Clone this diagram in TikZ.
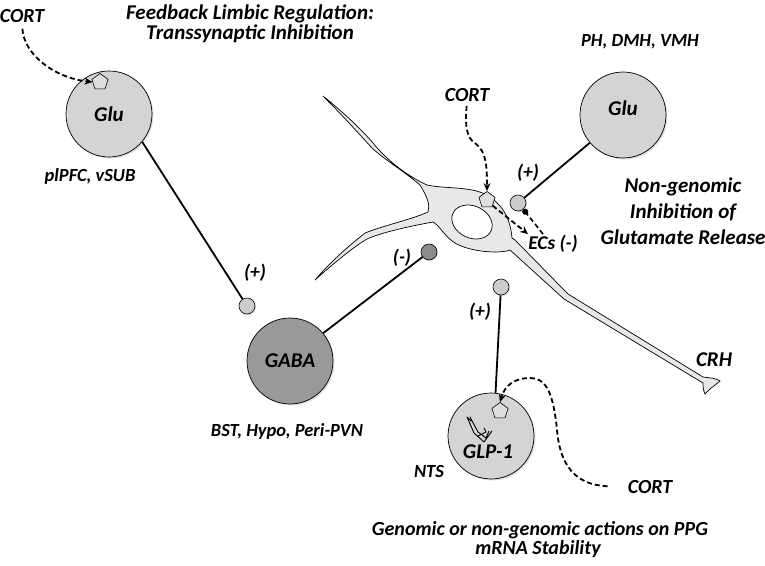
\documentclass[tikz,border=0pt]{standalone}
\usepackage{fontspec}
\setmainfont{Carlito}
\usetikzlibrary{shapes.geometric,arrows.meta,shadows,calc}
\definecolor{cellgray}{gray}{0.83}
\definecolor{gabagray}{gray}{0.6}
\definecolor{darkbouton}{gray}{0.55}
\definecolor{boutongray}{gray}{0.8}
\definecolor{neurofill}{gray}{0.91}
\definecolor{pentfill}{gray}{0.87}
\newcommand{\lblfont}[1]{\fontsize{#1}{#1}\selectfont\bfseries\itshape}
\tikzset{
  lbl/.style={font=\lblfont{19.5}, inner sep=0pt},
  reg/.style={font=\lblfont{18.5}, inner sep=0pt},
  cortlbl/.style={font=\lblfont{20}, inner sep=0pt},
  ttl/.style={font=\fontsize{21}{20}\selectfont\bfseries\itshape, inner sep=0pt, align=center},
  cell/.style={circle, draw=black, line width=0.7pt, minimum size=86pt, inner sep=0pt,
    font=\lblfont{21},
    drop shadow={opacity=0.25, shadow xshift=1.5pt, shadow yshift=-1.5pt}},
  bouton/.style={circle, draw=black, line width=0.6pt, minimum size=16pt, inner sep=0pt,
    drop shadow={opacity=0.25, shadow xshift=1pt, shadow yshift=-1pt}},
  pent/.style={regular polygon, regular polygon sides=5, draw=black, line width=0.6pt,
    fill=pentfill, minimum size=17pt, inner sep=0pt},
  syn/.style={line width=1.8pt},
  cortarr/.style={dashed, line width=1.8pt, dash pattern=on 5pt off 3pt, -{Stealth[length=8pt,width=7pt]}},
}
\begin{document}
\begin{tikzpicture}[x=1pt,y=-1pt]
\useasboundingbox (0,0) rectangle (765,565);
% ---- neuron (CRH) ----
\filldraw[fill=neurofill, draw=black, line width=0.7pt]
 (323,96) .. controls (343,112) and (362,130) .. (373,143)
 .. controls (385,158) and (405,175) .. (427,185)
 .. controls (445,189) and (470,186) .. (487,195)
 .. controls (500,203) and (510,215) .. (512,238)
 -- (515,240) -- (568,294) -- (703,377)
 .. controls (710,378) and (716,378) .. (720,381)
 .. controls (714,386) and (708,390) .. (705,394)
 .. controls (703,390) and (703,386) .. (703,383)
 -- (564,299) -- (510,250)
 .. controls (500,254) and (470,252) .. (455,243)
 .. controls (445,237) and (440,226) .. (433,222)
 .. controls (400,228) and (378,234) .. (367,239)
 .. controls (355,246) and (335,262) .. (315,280)
 .. controls (330,262) and (350,245) .. (365,233)
 .. controls (385,225) and (410,220) .. (428,212)
 .. controls (430,205) and (428,198) .. (420,185)
 .. controls (405,172) and (385,160) .. (372,148)
 .. controls (360,135) and (345,118) .. (323,96) -- cycle;
\draw[fill=white, line width=0.7pt, rotate around={-25:(472,222)}] (472,222) ellipse [x radius=21, y radius=16];
% ---- cells ----
\node[cell, fill=cellgray] (glu1) at (109,114) {Glu};
\node[cell, fill=gabagray] (gaba) at (290,361) {GABA};
\node[cell, fill=cellgray] (glu2) at (623,115) {};
\node[lbl, font=\lblfont{21}] (glu2txt) at (623,108) {Glu};
\node[cell, fill=cellgray] (glp) at (491,436) {};
% ---- boutons ----
\node[bouton, fill=boutongray] (b1) at (247,306) {};
\node[bouton, fill=darkbouton] (b2) at (429,252) {};
\node[bouton, fill=boutongray] (b3) at (501,287) {};
\node[bouton, fill=boutongray] (b4) at (518,203) {};
% ---- pentagons (receptors) ----
\node[pent] (p1) at (100,82) {};
\node[pent] (p2) at (487,200) {};
\node[pent] (p3) at (500,411) {};
% ---- labels ----
\node[ttl] (title) at (250,24) {Feedback Limbic Regulation:\\Transsynaptic Inhibition};
\node[cortlbl] (cort1) at (22,16) {CORT};
\node[reg] (reg1) at (90,176) {plPFC, vSUB};
\node[lbl] (plus1) at (255,273) {(+)};
\node[reg] (reg2) at (287,431) {BST, Hypo, Peri-PVN};
\node[lbl] (minus1) at (402,258) {(-)};
\node[lbl] (plus2) at (480,312) {(+)};
\node[reg] (nts) at (429,471) {NTS};
\node[lbl, font=\lblfont{21}] (glptext) at (488,452) {GLP-1};
\node[cortlbl] (cort3) at (650,487) {CORT};
\node[lbl, font=\lblfont{20}] (bot1) at (540,530) {Genomic or non-genomic actions on PPG};
\node[lbl, font=\lblfont{20}] (bot2) at (538,549) {mRNA Stability};
\node[lbl, font=\lblfont{21}] (crh) at (714,360) {CRH};
\node[cortlbl] (cort2) at (467,95) {CORT};
\node[lbl] (plus3) at (528,173) {(+)};
\node[lbl] (ecs) at (553,244) {ECs (-)};
\node[reg] (reg3) at (640,42) {PH, DMH, VMH};
\node[lbl, align=center, font=\fontsize{21}{26}\selectfont\bfseries\itshape] (nongen) at (683,211) {Non-genomic\\Inhibition of\\Glutamate Release};
% ---- synaptic connections ----
\draw[syn] (glu1.-40) -- (b1);
\draw[syn] (gaba.40) -- (b2);
\draw[syn] (b3) -- (glp.84);
\draw[syn] (glu2) -- (b4);
% ---- CORT actions ----
\draw[cortarr, shorten <=6pt] (cort1.south) .. controls (24,55) and (55,78) .. (p1.west);
\draw[cortarr, shorten <=4pt] (cort2.south) .. controls (465,125) and (466,138) .. (476,144)
  .. controls (486,152) and (487,165) .. (p2.north);
\draw[cortarr] (p2.south east) -- ($(ecs.north west)+(0,-1)$);
\draw[dashed, line width=1.6pt, dash pattern=on 5pt off 3pt, -{Circle[length=6pt]}] ($(ecs.north west)+(15,-1)$) -- (b4.-50);
\draw[cortarr, shorten <=20pt] (cort3.west) .. controls (575,485) and (560,465) .. (557,430)
  .. controls (553,390) and (545,378) .. (530,378)
  .. controls (515,378) and (505,385) .. (p3.north);
% ---- mRNA squiggle ----
\draw[line width=0.9pt, line join=round, line cap=round]
  (467,417) -- (474,433) -- (484,442) -- (492,431)
  (470,417) -- (478,432) -- (486,438) -- (489,431)
  (467,417) -- (471,421)
  (478,436) -- (486,432) -- (484,428);
\end{tikzpicture}
\end{document}
